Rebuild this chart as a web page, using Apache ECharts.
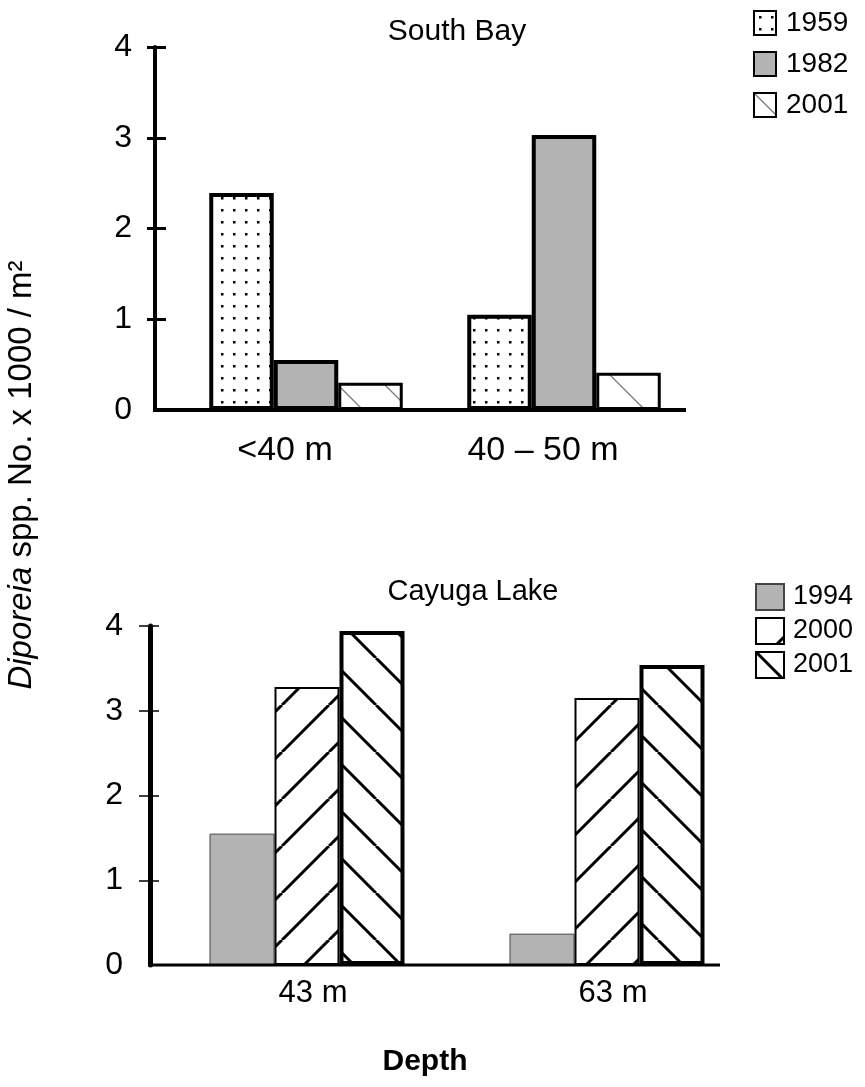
<!DOCTYPE html>
<html>
<head>
<meta charset="utf-8">
<script src="https://cdn.jsdelivr.net/npm/echarts@6/dist/echarts.min.js"></script>
<style>
  html, body { margin: 0; padding: 0; background: #fff; }
  #chart { width: 865px; height: 1087px; }
</style>
</head>
<body>
<div id="chart"></div>
<script>
// South Bay (top panel)
const sbCategories = ['<40 m', '40 – 50 m']
const sb1959 = [2.39, 1.05]
const sb1982 = [0.55, 3.03]
const sb2001 = [0.30, 0.41]

// Cayuga Lake (bottom panel)
const clCategories = ['43 m', '63 m']
const cl1994 = [1.55, 0.37]
const cl2000 = [3.28, 3.15]
const cl2001 = [3.94, 3.54]

const yMax = 4
const yStep = 1
const yTickValues = [1, 2, 3, 4]

const FONT = 'Liberation Sans, Arial, sans-serif'

// fill patterns drawn on small canvases
function makeDots () {
  const c = document.createElement('canvas')
  c.width = 12; c.height = 12
  const ctx = c.getContext('2d')
  ctx.fillStyle = '#fff'
  ctx.fillRect(0, 0, 12, 12)
  ctx.fillStyle = '#000'
  ctx.fillRect(5, 5, 2.5, 2.5)
  return c
}
function makeHatch (dir, color, width, size) {
  const c = document.createElement('canvas')
  c.width = size; c.height = size
  const ctx = c.getContext('2d')
  ctx.fillStyle = '#fff'
  ctx.fillRect(0, 0, size, size)
  ctx.strokeStyle = color
  ctx.lineWidth = width
  ctx.beginPath()
  for (let k = -1; k <= 1; k++) {
    if (dir === 'back') { // "\"
      ctx.moveTo(k * size, 0)
      ctx.lineTo(k * size + size, size)
    } else { // "/"
      ctx.moveTo(k * size, size)
      ctx.lineTo(k * size + size, 0)
    }
  }
  ctx.stroke()
  return c
}

const dots = { image: makeDots(), repeat: 'repeat' }
const greyHatch = { image: makeHatch('back', '#7a7a7a', 1.3, 47), repeat: 'repeat' }
const fwdHatch = { image: makeHatch('fwd', '#000', 3, 47), repeat: 'repeat' }
const backHatch = { image: makeHatch('back', '#000', 3, 47), repeat: 'repeat' }

const chart = echarts.init(document.getElementById('chart'), null, { renderer: 'canvas' })

const valueAxis = (grid, offset, inside, len, tickW, lineW, margin) => ({
  type: 'value',
  gridIndex: grid,
  position: 'left',
  offset: offset,
  min: 0,
  max: yMax,
  interval: yStep,
  splitLine: { show: false },
  axisLine: { show: !inside, lineStyle: { color: '#000', width: lineW } },
  axisTick: { show: true, inside: inside, length: len, customValues: yTickValues, lineStyle: { color: '#000', width: tickW } },
  axisLabel: { show: !inside, margin: margin, color: '#000', fontSize: 32, fontFamily: FONT }
})

const catAxis = (grid, data, margin, padding, size) => ({
  type: 'category',
  gridIndex: grid,
  data: data,
  axisLine: { show: false },
  axisTick: { show: false },
  axisLabel: { margin: margin, color: '#000', fontSize: size, fontFamily: FONT, padding: padding }
})

const bar = (name, grid, data, color, borderColor, borderWidth, gap) => ({
  name: name,
  type: 'bar',
  xAxisIndex: grid,
  yAxisIndex: grid * 2,
  data: data,
  barGap: '0%',
  barCategoryGap: gap,
  itemStyle: { color: color, borderColor: borderColor, borderWidth: borderWidth },
  emphasis: { disabled: true },
  animation: false
})

chart.setOption({
  animation: false,
  title: [
    { text: 'South Bay', left: 452, top: 12, textAlign: 'center', textStyle: { fontSize: 30, fontWeight: 'normal', color: '#000', fontFamily: FONT } },
    { text: 'Cayuga Lake', left: 468, top: 572, textAlign: 'center', textStyle: { fontSize: 29, fontWeight: 'normal', color: '#000', fontFamily: FONT } },
    { text: 'Depth', left: 420, top: 1042, textAlign: 'center', textStyle: { fontSize: 30, fontWeight: 'bold', color: '#000', fontFamily: FONT } }
  ],
  legend: [
    {
      data: ['SB 1959', 'SB 1982', 'SB 2001'],
      orient: 'vertical',
      left: 748,
      top: 4,
      icon: 'rect',
      itemWidth: 22,
      itemHeight: 24,
      itemGap: 13,
      selectedMode: false,
      formatter: n => n.split(' ').pop(),
      textStyle: { fontSize: 28, color: '#000', fontFamily: FONT, padding: [0, 0, 0, 5] }
    },
    {
      data: ['CL 1994', 'CL 2000', 'CL 2001'],
      orient: 'vertical',
      left: 750,
      top: 578,
      icon: 'rect',
      itemWidth: 28,
      itemHeight: 26,
      itemGap: 6,
      selectedMode: false,
      formatter: n => n.split(' ').pop(),
      textStyle: { fontSize: 27, color: '#000', fontFamily: FONT, padding: [0, 0, 0, 4] }
    }
  ],
  grid: [
    { left: 177, right: 172, top: 47, height: 363 },
    { left: 157, right: 108, top: 626, height: 339 }
  ],
  xAxis: [
    catAxis(0, sbCategories, 24, [0, 42, 0, 0], 34),
    catAxis(1, clCategories, 13, [0, 0, 0, 12], 31)
  ],
  yAxis: [
    valueAxis(0, 22, false, 8, 3, 4, 23),
    valueAxis(0, 22, true, 11, 3, 4, 23),
    valueAxis(1, 7, false, 11, 1.5, 5, 27),
    valueAxis(1, 7, true, 9, 1.5, 5, 27)
  ],
  graphic: [
    { type: 'line', shape: { x1: 153, y1: 410, x2: 686, y2: 410 }, style: { stroke: '#000', lineWidth: 4 }, z: 100 },
    { type: 'line', shape: { x1: 148, y1: 965, x2: 720, y2: 965 }, style: { stroke: '#000', lineWidth: 3 }, z: 100 },
    {
      type: 'text',
      x: 22,
      y: 475,
      rotation: Math.PI / 2,
      style: {
        text: '{i|Diporeia} spp. No. x 1000 / m²',
        fontSize: 33,
        fontFamily: FONT,
        fill: '#000',
        align: 'center',
        verticalAlign: 'middle',
        rich: { i: { fontStyle: 'italic', fontSize: 33, fontFamily: FONT } }
      }
    }
  ],
  series: [
    bar('SB 1959', 0, sb1959, dots, '#000', 4, '25%'),
    bar('SB 1982', 0, sb1982, '#b3b3b3', '#000', 4, '25%'),
    bar('SB 2001', 0, sb2001, greyHatch, '#000', 3, '25%'),
    bar('CL 1994', 1, cl1994, '#b3b3b3', '#444', 1, '35%'),
    bar('CL 2000', 1, cl2000, fwdHatch, '#000', 2, '35%'),
    bar('CL 2001', 1, cl2001, backHatch, '#000', 4, '35%')
  ]
})
</script>
</body>
</html>
